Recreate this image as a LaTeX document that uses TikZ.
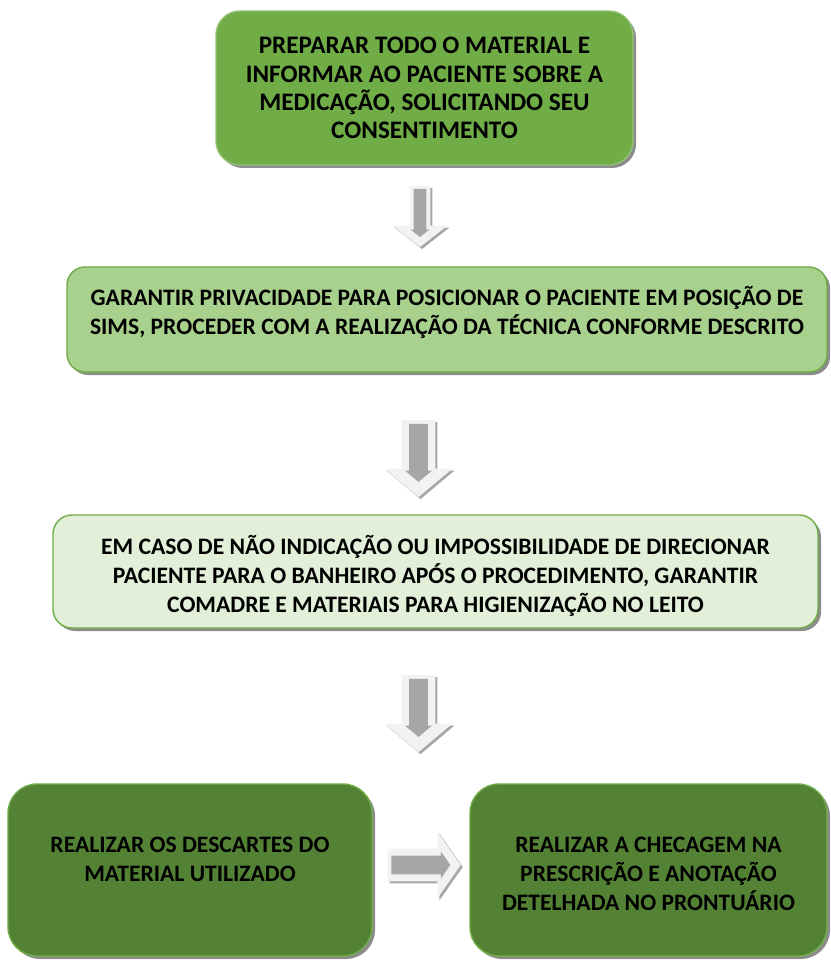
\documentclass[tikz,border=0pt]{standalone}
\usepackage{fontspec}
\setmainfont{Carlito}
\usetikzlibrary{positioning,calc,shapes.arrows,shadows}
\definecolor{leaf}{HTML}{70AD47}
\definecolor{leaflight}{HTML}{A9D18E}
\definecolor{leafpale}{HTML}{E2F0D9}
\definecolor{leafdark}{HTML}{548235}
\definecolor{arrowfill}{HTML}{F2F2F2}
\definecolor{arrowshaft}{HTML}{A6A6A6}
\tikzset{
 box/.style={rectangle,rounded corners=#1,draw=leaf,line width=.7pt,inner sep=0pt,
  drop shadow={shadow xshift=1.5pt,shadow yshift=-1.5pt,fill=black,opacity=.45}},
 boxtext/.style={font=\bfseries\fontsize{11.8}{14.5}\selectfont,align=center,inner sep=0pt},
 flow/.style={single arrow,fill=arrowfill,inner xsep=0pt,single arrow head indent=0pt,
  drop shadow={shadow xshift=1pt,shadow yshift=-1pt,fill=arrowshaft,opacity=1}},
 flowcore/.style={single arrow,fill=arrowshaft,inner xsep=0pt,single arrow head indent=0pt}
}
\begin{document}
\begin{tikzpicture}[x=1pt,y=-1pt]
\useasboundingbox (0,0) rectangle (415,481);
% steps
\node[box=12pt,fill=leaf,draw=leaf!75!white,minimum width=208.5pt,minimum height=77pt] (b1) at (212.25,44) {};
\node[box=9pt,fill=leaflight,minimum width=380pt,minimum height=52.5pt] (b2) at (223.5,159.75) {};
\node[box=9.5pt,fill=leafpale,minimum width=382.5pt,minimum height=56.5pt] (b3) at (217.75,285.75) {};
\node[box=14.5pt,fill=leafdark,minimum width=182pt,minimum height=86pt] (b4) at (95,435) {};
\node[box=14.5pt,fill=leafdark,minimum width=178.5pt,minimum height=86pt] (b5) at (324.25,435) {};
\node[boxtext,font=\bfseries\fontsize{12.6}{14.1}\selectfont] (t1) at (b1.center) {PREPARAR TODO O MATERIAL E\\INFORMAR AO PACIENTE SOBRE A\\MEDICAÇÃO, SOLICITANDO SEU\\CONSENTIMENTO};
\node[boxtext] (t2) at ([yshift=3.75pt]b2.center) {GARANTIR PRIVACIDADE PARA POSICIONAR O PACIENTE EM POSIÇÃO DE\\SIMS, PROCEDER COM A REALIZAÇÃO DA TÉCNICA CONFORME DESCRITO};
\node[boxtext] (t3) at ([yshift=-2pt]b3.center) {EM CASO DE NÃO INDICAÇÃO OU IMPOSSIBILIDADE DE DIRECIONAR\\PACIENTE PARA O BANHEIRO APÓS O PROCEDIMENTO, GARANTIR\\COMADRE E MATERIAIS PARA HIGIENIZAÇÃO NO LEITO};
\node[boxtext] (t4) at ([yshift=5.5pt]b4.center) {REALIZAR OS DESCARTES DO\\MATERIAL UTILIZADO};
\node[boxtext] (t5) at ([yshift=-2pt]b5.center) {REALIZAR A CHECAGEM NA\\PRESCRIÇÃO E ANOTAÇÃO\\DETELHADA NO PRONTUÁRIO};
% block arrows between the steps
\node[flow,rotate=-90,minimum height=30.5pt,minimum width=27pt,inner ysep=5pt,single arrow head extend=8.5pt,single arrow tip angle=104] (a1) at (210,106.25) {};
\node[flowcore,rotate=-90,minimum height=24pt,minimum width=9pt,inner ysep=3pt,single arrow head extend=1.5pt,single arrow tip angle=104] (c1) at ([yshift=1pt]a1.center) {};
\foreach \y/\n in {225.75/2,353.25/3}{
 \node[flow,rotate=-90,minimum height=38.5pt,minimum width=33.5pt,inner ysep=8.25pt,single arrow head extend=8.5pt,single arrow tip angle=100] (a\n) at (209.25,\y) {};
 \node[flowcore,rotate=-90,minimum height=29pt,minimum width=13pt,inner ysep=4.5pt,single arrow head extend=2pt,single arrow tip angle=100] (c\n) at ([yshift=1.25pt]a\n.center) {};
}
\node[flow,minimum height=36.5pt,minimum width=33pt,inner ysep=8pt,single arrow head extend=8.5pt,single arrow tip angle=110] (a4) at (209.25,432.5) {};
\node[flowcore,minimum height=29.5pt,minimum width=13pt,inner ysep=4.5pt,single arrow head extend=2pt,single arrow tip angle=110] (c4) at ([xshift=-0.5pt]a4.center) {};
\end{tikzpicture}
\end{document}
